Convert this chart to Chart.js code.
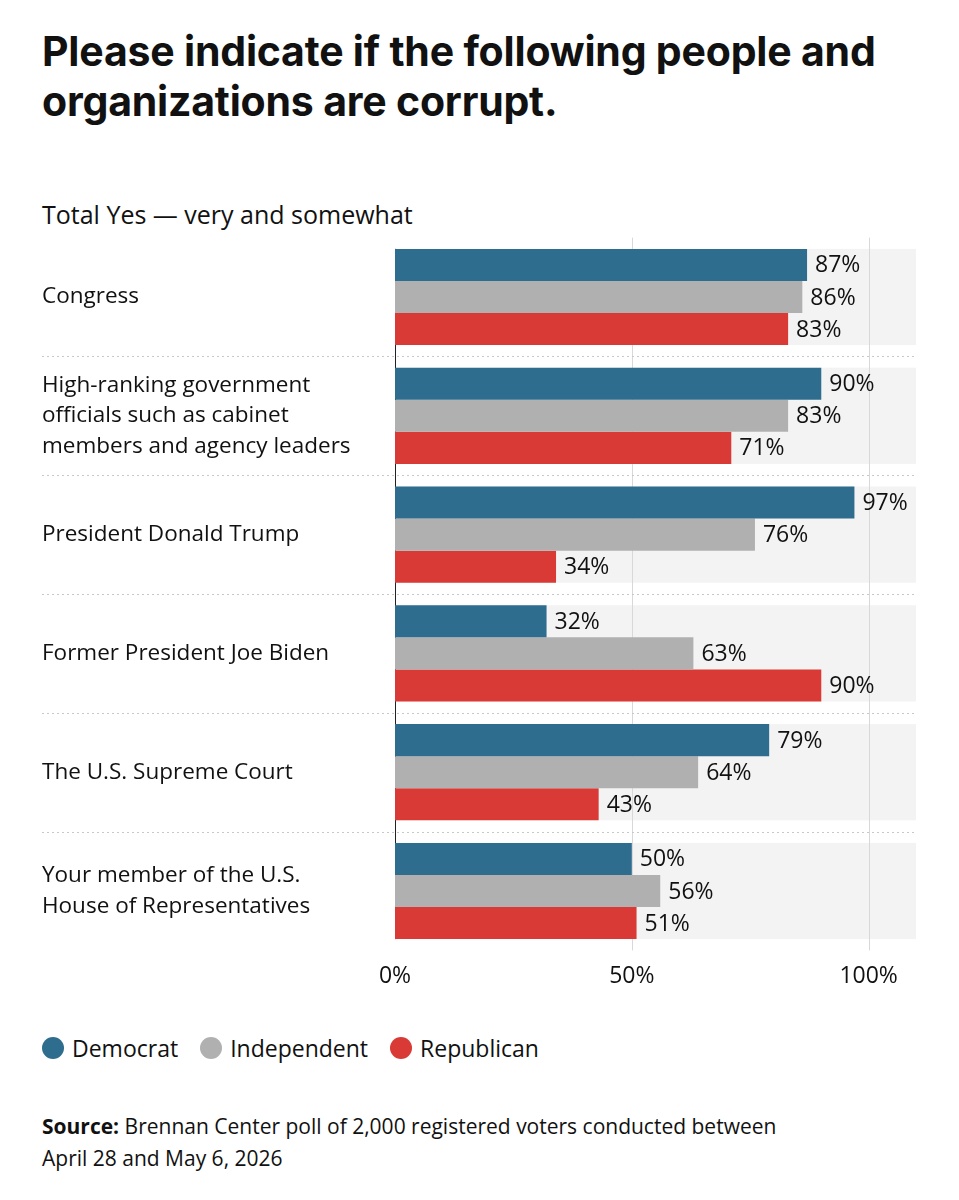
<!DOCTYPE html>
<html>
<head>
<meta charset="utf-8">
<script src="https://cdn.jsdelivr.net/npm/chart.js@4"></script>
<style>
  body { margin: 0; background: #fff; font-family: "Open Sans", "Noto Sans", sans-serif; color: #111; width: 959px; height: 1200px; position: relative; }
  h1 { position: absolute; left: 42px; top: 26px; margin: 0; font-size: 41px; line-height: 50px; font-weight: 700; font-family: "Inter", "Noto Sans", sans-serif; letter-spacing: -0.2px; }
  .sub { position: absolute; left: 42px; top: 197px; font-size: 25px; }
  #wrap { position: absolute; left: 0; top: 204px; width: 959px; height: 790px; }
  .legend { position: absolute; left: 42px; top: 1032px; font-size: 23px; display: flex; gap: 22px; }
  .legend span { display: inline-flex; align-items: center; }
  .legend i { display: inline-block; width: 22px; height: 22px; border-radius: 50%; margin-right: 8px; }
  .src { position: absolute; left: 42px; top: 1110px; font-size: 21px; line-height: 32px; width: 830px; }
</style>
</head>
<body>
<h1>Please indicate if the following people and<br>organizations are corrupt.</h1>
<div class="sub">Total Yes — very and somewhat</div>
<div id="wrap"><canvas id="chart"></canvas></div>
<div class="legend">
  <span><i style="background:#2f6d8f"></i>Democrat</span>
  <span><i style="background:#b0b0b0"></i>Independent</span>
  <span><i style="background:#d93a35"></i>Republican</span>
</div>
<div class="src"><b>Source:</b> Brennan Center poll of 2,000 registered voters conducted between<br>April 28 and May 6, 2026</div>
<script>
// categories and series
const categories = [
  ['Congress'],
  ['High-ranking government', 'officials such as cabinet', 'members and agency leaders'],
  ['President Donald Trump'],
  ['Former President Joe Biden'],
  ['The U.S. Supreme Court'],
  ['Your member of the U.S.', 'House of Representatives']
];
const democrat = [87, 90, 97, 32, 79, 50];
const independent = [86, 83, 76, 63, 64, 56];
const republican = [83, 71, 34, 90, 43, 51];
const tickValues = [0, 50, 100];

const CAT_PCT = 0.81;

// gray bands, separators, gridlines
const backdrop = {
  id: 'backdrop',
  beforeDatasetsDraw(chart) {
    const { ctx, chartArea: a, scales: { x, y } } = chart;
    const step = (a.bottom - a.top) / categories.length;
    ctx.save();
    categories.forEach((c, i) => {
      const cy = y.getPixelForValue(i);
      const h = step * CAT_PCT;
      ctx.fillStyle = '#f3f3f3';
      ctx.fillRect(a.left, cy - h / 2, a.right - a.left, h);
    });
    ctx.strokeStyle = '#d8d8d8';
    ctx.lineWidth = 1;
    [50, 100].forEach(v => {
      const px = Math.round(x.getPixelForValue(v)) + 0.5;
      ctx.beginPath(); ctx.moveTo(px, a.top); ctx.lineTo(px, a.bottom); ctx.stroke();
    });
    ctx.setLineDash([2, 3]);
    ctx.strokeStyle = '#c8c8c8';
    for (let i = 1; i < categories.length; i++) {
      const yy = Math.round(a.top + step * i) + 0.5;
      ctx.beginPath(); ctx.moveTo(42, yy); ctx.lineTo(a.right, yy); ctx.stroke();
    }
    ctx.setLineDash([]);
    ctx.strokeStyle = '#222';
    ctx.beginPath(); ctx.moveTo(a.left + 0.5, a.top + step * 0.095); ctx.lineTo(a.left + 0.5, a.bottom - step * 0.095); ctx.stroke();
    ctx.restore();
  },
  afterDatasetsDraw(chart) {
    const { ctx } = chart;
    ctx.save();
    ctx.font = '23px "Open Sans", sans-serif';
    ctx.fillStyle = '#111';
    ctx.textBaseline = 'middle';
    chart.data.datasets.forEach((ds, di) => {
      chart.getDatasetMeta(di).data.forEach((bar, i) => {
        ctx.fillText(ds.data[i] + '%', bar.x + 8, bar.y + 1);
      });
    });
    ctx.restore();
  }
};

new Chart(document.getElementById('chart'), {
  type: 'bar',
  data: {
    labels: categories,
    datasets: [
      { label: 'Democrat', data: democrat, backgroundColor: '#2f6d8f' },
      { label: 'Independent', data: independent, backgroundColor: '#b0b0b0' },
      { label: 'Republican', data: republican, backgroundColor: '#d93a35' }
    ]
  },
  options: {
    indexAxis: 'y',
    responsive: true,
    maintainAspectRatio: false,
    animation: false,
    layout: { padding: { left: 42, right: 43, top: 5, bottom: 0 } },
    datasets: { bar: { categoryPercentage: CAT_PCT, barPercentage: 1 } },
    plugins: { legend: { display: false }, tooltip: { enabled: false } },
    scales: {
      x: {
        min: 0, max: 110,
        grid: { display: false },
        border: { display: false },
        afterBuildTicks(s) { s.ticks = tickValues.map(v => ({ value: v })); },
        ticks: { callback: v => v + '%', color: '#111', font: { size: 23, family: '"Open Sans", sans-serif' }, padding: 4 }
      },
      y: {
        grid: { display: false },
        border: { display: false },
        afterFit(s) { s.width = 353; },
        ticks: { crossAlign: 'far', color: '#111', font: { size: 22.5, family: '"Open Sans", sans-serif', lineHeight: 1.36 } }
      }
    }
  },
  plugins: [backdrop]
});
</script>
</body>
</html>
